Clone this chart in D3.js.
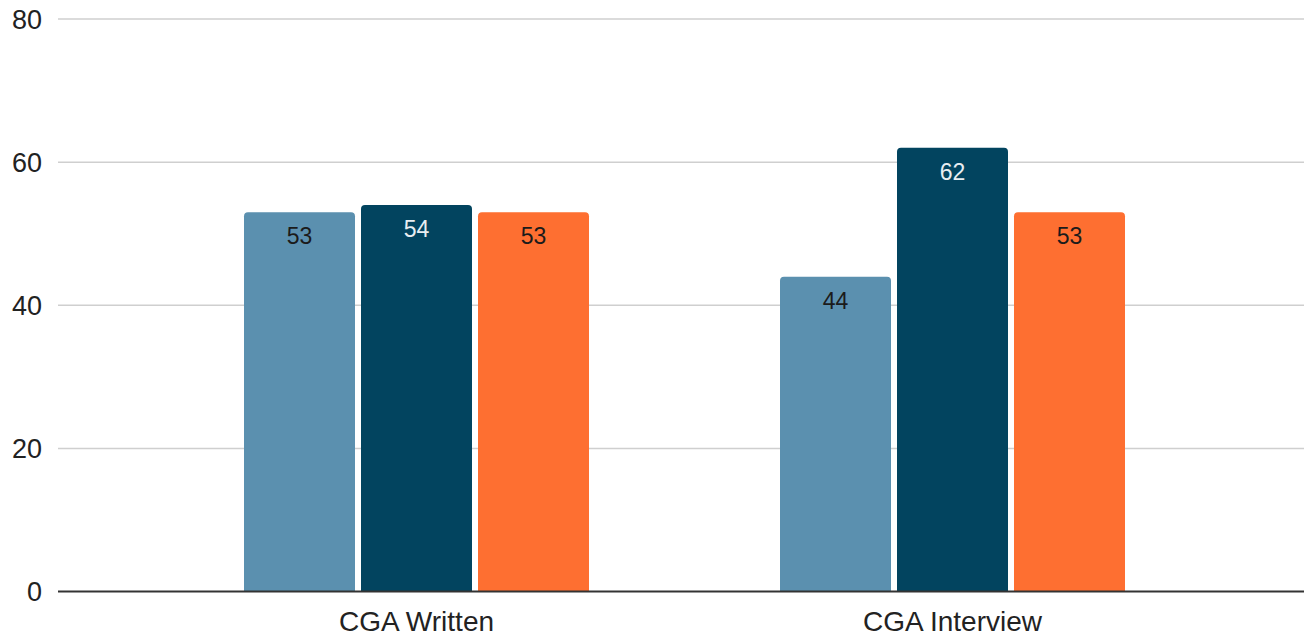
<!DOCTYPE html>
<html>
<head>
<meta charset="utf-8">
<script src="https://cdn.jsdelivr.net/npm/d3@7"></script>
<style>
  html, body { margin: 0; padding: 0; background: #fff; }
  svg { display: block; font-family: "Liberation Sans", Arial, sans-serif; }
</style>
</head>
<body>
<svg id="chart" width="1304" height="635"></svg>
<script>
// Exam categories and the three series plotted for each
const categories = ["CGA Written", "CGA Interview"];
const seriesNames = ["Series 1", "Series 2", "Series 3"];
const series1 = [53, 44];
const series2 = [54, 62];
const series3 = [53, 53];
const yTicks = [0, 20, 40, 60, 80];

const colors = ["#5b90af", "#02445f", "#fe6f31"];
const labelColors = ["#1b1b1b", "#e8eef2", "#1b1b1b"];

const svg = d3.select("#chart");

const gridLeft = 58, gridRight = 1304;
const y = d3.scaleLinear().domain([0, 80]).range([591.5, 19]);

const x = d3.scaleBand().domain(categories).range([148.5, 1220.5]).padding(0);
const groupWidth = 345;
const xInner = d3.scaleBand().domain(seriesNames)
  .range([0, groupWidth]).paddingInner(6 / 117).paddingOuter(0);

// Gridlines
svg.append("g").selectAll("line")
  .data(yTicks.filter(t => t !== 0))
  .join("line")
  .attr("x1", gridLeft).attr("x2", gridRight)
  .attr("y1", d => y(d)).attr("y2", d => y(d))
  .attr("stroke", "#cfcfcf").attr("stroke-width", 1.5);

// Y tick labels
const yAxis = d3.axisLeft(y).tickValues(yTicks).tickSize(0).tickPadding(0);
const yg = svg.append("g").attr("transform", "translate(42,0)").call(yAxis);
yg.select(".domain").remove();
yg.selectAll("text")
  .attr("font-size", 27).attr("fill", "#222")
  .attr("font-family", "Liberation Sans, Arial, sans-serif")
  .attr("dy", "0.35em");

// Bars
const rows = [];
categories.forEach((c, i) => {
  [series1, series2, series3].forEach((s, j) => {
    rows.push({ cat: c, name: seriesNames[j], value: s[i], idx: j });
  });
});

function topRounded(x0, y0, w, h, r) {
  r = Math.min(r, h, w / 2);
  return `M${x0},${y0 + h}V${y0 + r}Q${x0},${y0} ${x0 + r},${y0}` +
         `H${x0 + w - r}Q${x0 + w},${y0} ${x0 + w},${y0 + r}V${y0 + h}Z`;
}

const groupOffset = (x.bandwidth() - groupWidth) / 2;
svg.append("g").selectAll("path")
  .data(rows)
  .join("path")
  .attr("d", d => {
    const bx = x(d.cat) + groupOffset + xInner(d.name);
    const by = y(d.value);
    return topRounded(bx, by, xInner.bandwidth(), y(0) - by, 4);
  })
  .attr("fill", d => colors[d.idx]);

// Value labels inside the bar tops
svg.append("g").selectAll("text")
  .data(rows)
  .join("text")
  .attr("x", d => x(d.cat) + groupOffset + xInner(d.name) + xInner.bandwidth() / 2)
  .attr("y", d => y(d.value) + 32)
  .attr("text-anchor", "middle")
  .attr("font-size", 23)
  .attr("fill", d => labelColors[d.idx])
  .text(d => d.value);

// Baseline
svg.append("line")
  .attr("x1", gridLeft).attr("x2", gridRight)
  .attr("y1", y(0)).attr("y2", y(0))
  .attr("stroke", "#333").attr("stroke-width", 2);

// Category labels
const xAxis = d3.axisBottom(x).tickSize(0).tickPadding(0);
const xg = svg.append("g").attr("transform", `translate(0,${y(0)})`).call(xAxis);
xg.select(".domain").remove();
xg.selectAll("text")
  .attr("font-size", 28).attr("fill", "#222")
  .attr("font-family", "Liberation Sans, Arial, sans-serif")
  .attr("dy", null)
  .attr("y", 39);
</script>
</body>
</html>
